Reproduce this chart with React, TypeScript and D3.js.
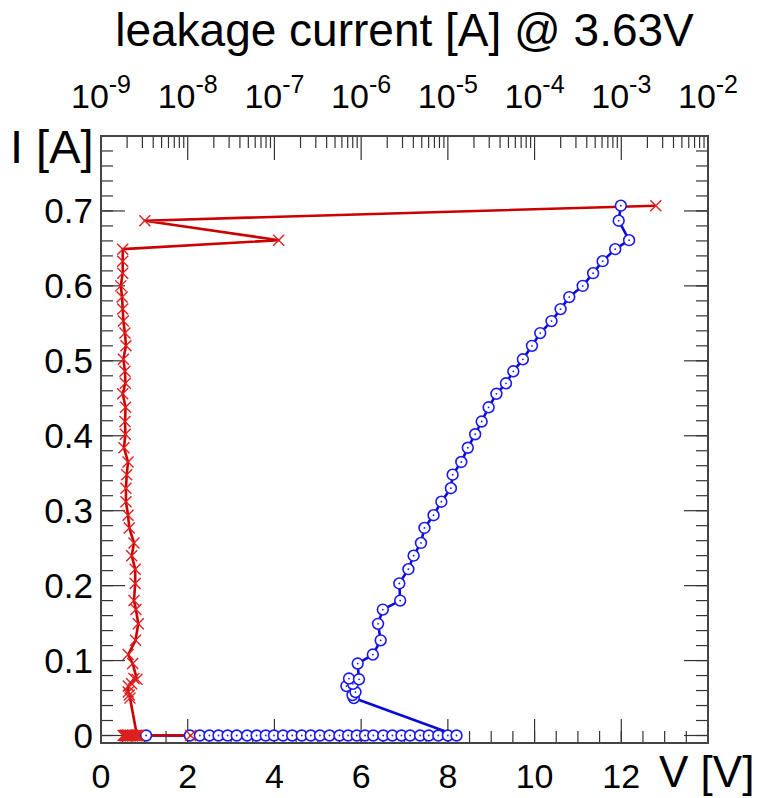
import React from "react";
import * as d3 from "d3";

// Shared current values I [A] (y axis)
const currents: number[] = [
  0, 0, 0, 0, 0, 0, 0, 0, 0, 0, 0, 0, 0, 0, 0, 0, 0, 0, 0, 0, 0, 0, 0, 0, 0, 0, 0, 0, 0, 0, 0,
  0.050, 0.054, 0.058, 0.066, 0.069, 0.076, 0.075, 0.096, 0.108, 0.127, 0.149, 0.168, 0.180,
  0.203, 0.222, 0.240, 0.257, 0.277, 0.294, 0.312, 0.330, 0.348, 0.365, 0.384, 0.402, 0.419,
  0.438, 0.456, 0.470, 0.486, 0.502, 0.520, 0.537, 0.553, 0.569, 0.585, 0.600, 0.617, 0.633,
  0.649, 0.661, 0.687, 0.707,
];

// Voltage V [V] (bottom axis) — blue series
const voltages: number[] = [
  1.04, 2.05, 2.28, 2.50, 2.71, 2.92, 3.13, 3.37, 3.59, 3.80, 3.99, 4.20, 4.41, 4.63, 4.84, 5.05,
  5.27, 5.50, 5.70, 5.90, 6.09, 6.28, 6.51, 6.72, 6.93, 7.13, 7.36, 7.56, 7.78, 8.00, 8.20,
  5.83, 5.80, 5.87, 5.66, 5.81, 5.72, 5.95, 5.92, 6.27, 6.45, 6.39, 6.50, 6.90,
  6.88, 7.09, 7.21, 7.38, 7.46, 7.67, 7.85, 8.07, 8.11, 8.31, 8.46, 8.63, 8.78,
  8.94, 9.12, 9.34, 9.51, 9.73, 9.94, 10.13, 10.39, 10.60, 10.80, 11.11, 11.35, 11.57,
  11.86, 12.18, 11.94, 11.99,
];

// Leakage current [A] @ 3.63V (top log axis) — red series
const leakage: number[] = [
  2.6e-9, 1.08e-8, 2.2e-9, 1.9e-9, 2.0e-9, 2.3e-9, 2.1e-9, 1.8e-9, 2.5e-9, 2.0e-9, 2.2e-9,
  1.9e-9, 2.4e-9, 2.1e-9, 2.0e-9, 2.3e-9, 1.9e-9, 2.2e-9, 2.6e-9, 2.0e-9, 2.1e-9, 1.85e-9,
  2.3e-9, 2.0e-9, 2.2e-9, 2.7e-9, 2.1e-9, 1.95e-9, 2.3e-9, 2.0e-9, 2.6e-9,
  2.16e-9, 2.12e-9, 2.06e-9, 2.06e-9, 2.26e-9, 2.4e-9, 2.6e-9, 2.32e-9, 2.06e-9, 2.5e-9,
  2.69e-9, 2.53e-9, 2.40e-9, 2.48e-9, 2.48e-9, 2.26e-9, 2.40e-9, 2.12e-9, 2.05e-9, 1.94e-9,
  1.94e-9, 1.98e-9, 2.05e-9, 1.84e-9, 1.91e-9, 1.89e-9, 1.92e-9, 1.78e-9, 1.91e-9, 1.89e-9,
  1.81e-9, 1.94e-9, 1.89e-9, 1.81e-9, 1.78e-9, 1.75e-9, 1.69e-9, 1.78e-9, 1.78e-9, 1.78e-9,
  1.12e-7, 3.2e-9, 2.5e-3,
];

const bottomTicks: number[] = [0, 2, 4, 6, 8, 10, 12];
const leftTicks: number[] = [0, 0.1, 0.2, 0.3, 0.4, 0.5, 0.6, 0.7];
const topExponents: number[] = [-9, -8, -7, -6, -5, -4, -3, -2];

const title = "leakage current [A] @ 3.63V";
const yTitle = "I [A]";
const xTitle = "V [V]";

const W = 759;
const H = 798;
const L = 101, R = 708, T = 136, B = 743;
const FONT = "'Liberation Sans', Arial, Helvetica, sans-serif";

export default function App() {
  const x = d3.scaleLinear().domain([0, 14]).range([L, R]);
  const xTop = d3.scaleLog().domain([1e-9, 1e-2]).range([L, R]);
  const y = d3.scaleLinear().domain([-0.01, 0.8]).range([B, T]);

  const blueData = currents.map((c, i) => ({ v: voltages[i], i: c }));
  const redData = currents.map((c, i) => ({ l: leakage[i], i: c }));

  const blueLine = d3.line<{ v: number; i: number }>().x(d => x(d.v)).y(d => y(d.i));
  const redLine = d3.line<{ l: number; i: number }>().x(d => xTop(d.l)).y(d => y(d.i));

  // ticks
  const xMinor = d3.range(0, 14.001, 0.5);
  const xMajor = d3.range(0, 14.001, 2);
  const yMinor = d3.range(0, 0.8001, 0.02);
  const yMajor = d3.range(0, 0.8001, 0.1);
  const topMinor: number[] = [];
  for (let e = -9; e < -2; e++) {
    for (let m = 2; m <= 9; m++) topMinor.push(m * Math.pow(10, e));
  }
  const topMajor = topExponents.map(e => Math.pow(10, e));

  const tickColor = "#333";
  const majLen = 24, minLen = 12;

  return (
    <svg width={W} height={H} style={{ display: "block", position: "absolute", left: 0, top: 0 }} fontFamily={FONT}>
      <rect x={0} y={0} width={W} height={H} fill="white" />
      {/* Title */}
      <text x={(L + R) / 2} y={46} fontSize={46} textAnchor="middle" fill="#000">{title}</text>

      {/* Top axis labels */}
      {topExponents.map((e, k) => (
        <text key={"tl" + k} x={xTop(Math.pow(10, e))} y={108} fontSize={34} textAnchor="middle" fill="#000">
          10<tspan fontSize={25} dy={-15}>{e}</tspan>
        </text>
      ))}

      {/* Bottom axis labels */}
      {bottomTicks.map((t, k) => (
        <text key={"bl" + k} x={x(t)} y={788} fontSize={34} textAnchor="middle" fill="#000">{t}</text>
      ))}
      {/* Left axis labels */}
      {leftTicks.map((t, k) => (
        <text key={"ll" + k} x={93} y={y(t) + 12} fontSize={35} textAnchor="end" fill="#000">{t === 0 ? "0" : t.toFixed(1)}</text>
      ))}

      {/* Axis titles */}
      <text x={10} y={163} fontSize={47} fill="#000">{yTitle}</text>
      <text x={659} y={787} fontSize={44} fill="#000">{xTitle}</text>

      {/* Ticks bottom */}
      {xMinor.map((t, k) => (
        <line key={"xb" + k} x1={x(t)} x2={x(t)} y1={B} y2={B - minLen} stroke={tickColor} strokeWidth={1.2} />
      ))}
      {xMajor.map((t, k) => (
        <line key={"xbM" + k} x1={x(t)} x2={x(t)} y1={B} y2={B - majLen} stroke={tickColor} strokeWidth={1.2} />
      ))}
      {/* Ticks top (log) */}
      {topMinor.map((t, k) => (
        <line key={"xt" + k} x1={xTop(t)} x2={xTop(t)} y1={T} y2={T + minLen} stroke={tickColor} strokeWidth={1.2} />
      ))}
      {topMajor.map((t, k) => (
        <line key={"xtM" + k} x1={xTop(t)} x2={xTop(t)} y1={T} y2={T + majLen} stroke={tickColor} strokeWidth={1.2} />
      ))}
      {/* Ticks left & right */}
      {yMinor.map((t, k) => (
        <g key={"ym" + k}>
          <line x1={L} x2={L + minLen} y1={y(t)} y2={y(t)} stroke={tickColor} strokeWidth={1.2} />
          <line x1={R} x2={R - minLen} y1={y(t)} y2={y(t)} stroke={tickColor} strokeWidth={1.2} />
        </g>
      ))}
      {yMajor.map((t, k) => (
        <g key={"yM" + k}>
          <line x1={L} x2={L + majLen} y1={y(t)} y2={y(t)} stroke={tickColor} strokeWidth={1.2} />
          <line x1={R} x2={R - majLen} y1={y(t)} y2={y(t)} stroke={tickColor} strokeWidth={1.2} />
        </g>
      ))}

      {/* Frame */}
      <rect x={L} y={T} width={R - L} height={B - T} fill="none" stroke="#444" strokeWidth={2} />

      {/* Lines */}
      <path d={blueLine(blueData) || ""} fill="none" stroke="#0a0ad6" strokeWidth={2.6} strokeLinejoin="round" />
      <path d={redLine(redData) || ""} fill="none" stroke="#cc0000" strokeWidth={2.6} strokeLinejoin="round" />

      {/* Blue markers */}
      {blueData.map((d, k) => (
        <g key={"bm" + k}>
          <circle cx={x(d.v)} cy={y(d.i)} r={5.4} fill="white" stroke="#1a1aee" strokeWidth={1.6} />
          <circle cx={x(d.v)} cy={y(d.i)} r={0.9} fill="#1a1aee" />
        </g>
      ))}
      {/* Red markers */}
      {redData.map((d, k) => {
        const cx = xTop(d.l), cy = y(d.i), s = 5.5;
        return (
          <path key={"rm" + k} d={`M${cx - s},${cy - s}L${cx + s},${cy + s}M${cx - s},${cy + s}L${cx + s},${cy - s}`}
            stroke="#dd2020" strokeWidth={1.4} fill="none" />
        );
      })}
    </svg>
  );
}
